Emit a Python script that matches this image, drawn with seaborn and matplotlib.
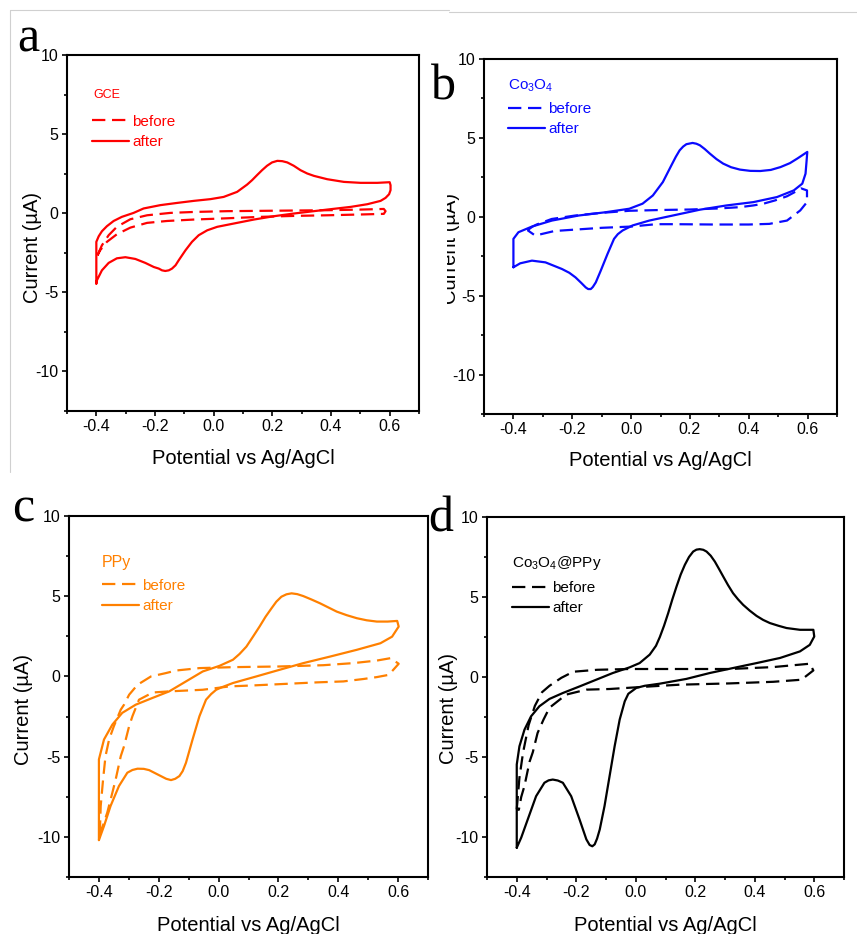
import matplotlib
matplotlib.use("Agg")
import matplotlib.pyplot as plt
from matplotlib.lines import Line2D
from matplotlib.patches import Rectangle
from matplotlib.ticker import MultipleLocator, FixedLocator
import seaborn as sns

# ---------------- data ----------------
x_ticks = [-0.4, -0.2, 0.0, 0.2, 0.4, 0.6]
x_tick_labels = ["-0.4", "-0.2", "0.0", "0.2", "0.4", "0.6"]
y_ticks = [-10, -5, 0, 5, 10]
y_tick_labels = ["-10", "-5", "0", "5", "10"]

# panel a: GCE
a_after_V = [-0.40, -0.40, -0.400, -0.392, -0.381, -0.364, -0.341, -0.313, -0.273, -0.239, -0.182, -0.125,
             -0.068, -0.011, 0.034, 0.080, 0.114, 0.131, 0.148, 0.165, 0.182, 0.199, 0.217, 0.234, 0.251,
             0.273, 0.296, 0.319, 0.342, 0.387, 0.444, 0.501, 0.558, 0.60, 0.603, 0.603, 0.598, 0.586,
             0.569, 0.524, 0.467, 0.387, 0.273, 0.205, 0.137, 0.069, 0.012, -0.022, -0.051, -0.074,
             -0.096, -0.119, -0.130, -0.142, -0.153, -0.165, -0.176, -0.187, -0.204, -0.233, -0.267,
             -0.301, -0.330, -0.358, -0.381, -0.398, -0.40]
a_after_I = [-4.45, -2.13, -1.81, -1.46, -1.14, -0.82, -0.49, -0.23, 0.02, 0.30, 0.51, 0.65,
             0.78, 0.89, 1.03, 1.35, 1.81, 2.09, 2.41, 2.72, 3.00, 3.21, 3.31, 3.29, 3.21,
             3.00, 2.72, 2.51, 2.36, 2.15, 1.98, 1.92, 1.92, 1.96, 1.77, 1.46, 1.20, 0.97,
             0.78, 0.57, 0.40, 0.23, -0.02, -0.19, -0.40, -0.65, -0.86, -1.08, -1.39, -1.81,
             -2.34, -2.97, -3.29, -3.50, -3.61, -3.65, -3.61, -3.50, -3.40, -3.14, -2.89,
             -2.78, -2.85, -3.14, -3.61, -4.24, -4.45]
a_before_V = [-0.396, -0.381, -0.358, -0.330, -0.284, -0.227, -0.148, -0.068, 0.046, 0.160, 0.273, 0.387,
              0.501, 0.580, 0.586, 0.580, 0.501, 0.387, 0.273, 0.160, 0.046, -0.068, -0.159, -0.227,
              -0.284, -0.330, -0.364, -0.387, -0.396]
a_before_I = [-2.66, -2.03, -1.39, -0.86, -0.38, -0.13, 0.02, 0.08, 0.13, 0.15, 0.17, 0.19,
              0.23, 0.27, 0.13, -0.04, -0.08, -0.13, -0.17, -0.23, -0.32, -0.40, -0.49, -0.61,
              -0.91, -1.33, -1.81, -2.34, -2.66]

# panel b: Co3O4
b_after_V = [-0.40, -0.40, -0.383, -0.337, -0.269, -0.178, -0.086, -0.006, 0.039, 0.074, 0.108, 0.137,
             0.152, 0.165, 0.177, 0.188, 0.209, 0.222, 0.234, 0.250, 0.268, 0.290, 0.313, 0.340, 0.370,
             0.405, 0.439, 0.475, 0.508, 0.540, 0.565, 0.599, 0.596, 0.593, 0.582, 0.553, 0.496, 0.416,
             0.325, 0.234, 0.142, 0.062, 0.005, -0.029, -0.045, -0.058, -0.080, -0.103, -0.120, -0.130,
             -0.137, -0.146, -0.154, -0.170, -0.189, -0.210, -0.235, -0.291, -0.337, -0.377, -0.40]
b_after_I = [-3.20, -1.40, -0.98, -0.62, -0.24, 0.08, 0.29, 0.51, 0.83, 1.35, 2.20, 3.26,
             3.80, 4.21, 4.45, 4.60, 4.68, 4.63, 4.53, 4.30, 4.00, 3.66, 3.37, 3.14, 2.99,
             2.91, 2.90, 2.97, 3.15, 3.40, 3.69, 4.11, 3.40, 2.73, 2.10, 1.67, 1.25, 0.93,
             0.72, 0.45, 0.08, -0.24, -0.55, -0.87, -1.10, -1.40, -2.35, -3.41, -4.16, -4.45,
             -4.58, -4.58, -4.48, -4.18, -3.84, -3.55, -3.31, -2.89, -2.78, -2.95, -3.20]
b_before_V = [-0.352, -0.335, -0.321, -0.270, -0.190, -0.100, -0.006, 0.100, 0.200, 0.300, 0.370, 0.416,
              0.450, 0.490, 0.530, 0.555, 0.578, 0.598, 0.598, 0.575, 0.530, 0.470, 0.400, 0.280,
              0.150, 0.085, 0.000, -0.100, -0.180, -0.260, -0.326, -0.352]
b_before_I = [-0.85, -0.62, -0.49, -0.14, 0.08, 0.25, 0.38, 0.43, 0.46, 0.53, 0.61, 0.72,
              0.83, 1.04, 1.30, 1.55, 1.80, 1.67, 0.93, 0.40, -0.24, -0.45, -0.49, -0.49,
              -0.47, -0.47, -0.62, -0.70, -0.80, -0.90, -1.19, -0.85]

# panel c: PPy
c_after_V = [-0.40, -0.40, -0.383, -0.355, -0.322, -0.277, -0.221, -0.165, -0.109, -0.053, 0.003, 0.048,
             0.070, 0.093, 0.115, 0.137, 0.157, 0.177, 0.193, 0.210, 0.227, 0.244, 0.263, 0.283, 0.310,
             0.339, 0.367, 0.395, 0.428, 0.462, 0.495, 0.529, 0.565, 0.597, 0.602, 0.580, 0.541, 0.462,
             0.373, 0.283, 0.205, 0.126, 0.048, 0.010, -0.008, -0.025, -0.042, -0.064, -0.087, -0.109,
             -0.120, -0.131, -0.145, -0.159, -0.175, -0.193, -0.232, -0.250, -0.271, -0.288, -0.305,
             -0.333, -0.361, -0.383, -0.40]
c_after_I = [-10.2, -5.17, -3.93, -3.00, -2.27, -1.76, -1.34, -0.93, -0.31, 0.31, 0.66, 1.04,
             1.40, 1.86, 2.48, 3.11, 3.72, 4.25, 4.66, 4.97, 5.12, 5.18, 5.13, 5.01, 4.80,
             4.56, 4.30, 4.04, 3.82, 3.63, 3.50, 3.42, 3.42, 3.46, 3.11, 2.48, 2.07, 1.66,
             1.24, 0.83, 0.42, 0.00, -0.41, -0.68, -0.83, -1.10, -1.45, -2.48, -3.93, -5.38,
             -5.90, -6.21, -6.38, -6.46, -6.38, -6.21, -5.84, -5.76, -5.75, -5.83, -6.00,
             -6.83, -8.07, -9.32, -10.2]
c_before_V = [-0.397, -0.394, -0.386, -0.378, -0.366, -0.350, -0.327, -0.316, -0.299, -0.271, -0.226, -0.176,
              -0.142, -0.064, 0.050, 0.200, 0.350, 0.450, 0.529, 0.575, 0.602, 0.569, 0.529, 0.484,
              0.417, 0.328, 0.283, 0.160, 0.115, 0.037, -0.053, -0.165, -0.220, -0.266, -0.288,
              -0.299, -0.316, -0.327, -0.344, -0.355, -0.372, -0.383, -0.394, -0.397]
c_before_I = [-9.80, -8.07, -6.40, -4.97, -3.93, -3.10, -2.07, -1.76, -1.14, -0.52, 0.00, 0.21,
              0.37, 0.52, 0.58, 0.62, 0.70, 0.83, 0.99, 1.14, 0.79, 0.10, -0.04, -0.16,
              -0.31, -0.37, -0.41, -0.52, -0.56, -0.62, -0.83, -0.93, -1.00, -1.45, -2.48,
              -3.10, -4.35, -4.97, -6.42, -7.24, -8.48, -9.10, -9.70, -9.80]

# panel d: Co3O4@PPy
d_after_V = [-0.40, -0.40, -0.391, -0.374, -0.352, -0.324, -0.290, -0.245, -0.189, -0.133, -0.077, -0.021,
             0.013, 0.047, 0.068, 0.081, 0.095, 0.109, 0.123, 0.137, 0.151, 0.165, 0.179, 0.193, 0.204,
             0.215, 0.227, 0.238, 0.252, 0.266, 0.280, 0.294, 0.310, 0.327, 0.344, 0.361, 0.383, 0.406,
             0.428, 0.451, 0.480, 0.507, 0.552, 0.597, 0.600, 0.585, 0.552, 0.485, 0.406, 0.327, 0.249,
             0.170, 0.080, 0.030, 0.002, -0.025, -0.037, -0.054, -0.071, -0.088, -0.105, -0.121, -0.130,
             -0.138, -0.146, -0.155, -0.166, -0.189, -0.217, -0.245, -0.262, -0.279, -0.293, -0.307,
             -0.335, -0.363, -0.385, -0.40]
d_after_I = [-10.67, -5.47, -4.33, -3.29, -2.46, -1.83, -1.37, -1.00, -0.59, -0.17, 0.25, 0.60,
             0.87, 1.40, 1.95, 2.50, 3.20, 3.99, 4.85, 5.65, 6.40, 7.01, 7.50, 7.84, 7.96,
             7.99, 7.95, 7.84, 7.58, 7.21, 6.75, 6.28, 5.75, 5.24, 4.85, 4.51, 4.15, 3.82,
             3.57, 3.37, 3.20, 3.06, 2.95, 2.95, 2.53, 2.01, 1.60, 1.19, 0.87, 0.56, 0.25,
             -0.12, -0.42, -0.55, -0.68, -1.05, -1.52, -2.66, -4.33, -6.20, -8.07, -9.53, -10.10,
             -10.46, -10.58, -10.50, -10.15, -8.90, -7.45, -6.61, -6.47, -6.41, -6.46, -6.61,
             -7.45, -8.90, -10.04, -10.67]
d_before_V = [-0.400, -0.391, -0.379, -0.360, -0.339, -0.315, -0.290, -0.250, -0.210, -0.130, -0.021, 0.148,
              0.316, 0.462, 0.585, 0.597, 0.557, 0.462, 0.316, 0.148, 0.057, -0.088, -0.166, -0.234,
              -0.290, -0.310, -0.330, -0.346, -0.357, -0.374, -0.385, -0.393, -0.400]
d_before_I = [-8.27, -6.30, -4.74, -3.00, -1.80, -0.95, -0.55, -0.05, 0.33, 0.45, 0.50, 0.50,
              0.50, 0.62, 0.83, 0.41, -0.17, -0.30, -0.40, -0.48, -0.58, -0.75, -0.79, -1.10,
              -1.92, -2.66, -3.50, -4.70, -5.30, -6.80, -7.50, -8.30, -8.27]

panel_letters = ["a", "b", "c", "d"]
panel_titles = ["GCE", r"Co$_3$O$_4$", "PPy", r"Co$_3$O$_4$@PPy"]
panel_colors = ["#ff0000", "#0a0aff", "#ff8000", "#000000"]
legend_labels = ["before", "after"]
x_label = "Potential vs Ag/AgCl"
y_label = "Current (\u00b5A)"

# ---------------- style ----------------
sns.set_theme(style="ticks")
plt.rcParams["font.family"] = ["Liberation Sans", "DejaVu Sans"]
plt.rcParams["axes.unicode_minus"] = False
plt.rcParams["mathtext.fontset"] = "custom"
plt.rcParams["mathtext.rm"] = "Liberation Sans"
plt.rcParams["mathtext.it"] = "Liberation Sans:italic"
plt.rcParams["mathtext.bf"] = "Liberation Sans:bold"

W, H = 857, 934
fig = plt.figure(figsize=(W / 100, H / 100), dpi=100)
fig.patch.set_facecolor("white")


def rect(l, t, r, b):
    return [l / W, 1 - b / H, (r - l) / W, (b - t) / H]


layout = [
    dict(rect=rect(67, 55, 419, 411), ylab=(-0.071, 0.46), xlab=-0.107,
         title=(0.074, 0.879, 9), leg=(0.071, 0.832), letter=(17, 52)),
    dict(rect=rect(484, 59, 837, 414), ylab=(-0.068, 0.466), xlab=-0.105,
         title=(0.068, 0.915, 11), leg=(0.068, 0.879), letter=(431, 100)),
    dict(rect=rect(69, 516, 428, 877), ylab=(-0.100, 0.463), xlab=-0.109,
         title=(0.092, 0.859, 11.5), leg=(0.092, 0.826), letter=(12, 522)),
    dict(rect=rect(487, 517, 844, 877), ylab=(-0.081, 0.467), xlab=-0.109,
         title=(0.070, 0.861, 11), leg=(0.070, 0.822), letter=(428, 532)),
]

data = [
    (a_before_V, a_before_I, a_after_V, a_after_I),
    (b_before_V, b_before_I, b_after_V, b_after_I),
    (c_before_V, c_before_I, c_after_V, c_after_I),
    (d_before_V, d_before_I, d_after_V, d_after_I),
]

for k in range(4):
    L = layout[k]
    col = panel_colors[k]
    bV, bI, aV, aI = data[k]
    ax = fig.add_axes(L["rect"])
    sns.lineplot(x=bV, y=bI, sort=False, estimator=None, ax=ax, color=col,
                 linewidth=1.6, linestyle=(0, (6, 3)), dash_joinstyle="round",
                 dash_capstyle="butt")
    sns.lineplot(x=aV, y=aI, sort=False, estimator=None, ax=ax, color=col,
                 linewidth=1.6, linestyle="-", solid_joinstyle="round")
    ax.set_xlim(-0.5, 0.7)
    ax.set_ylim(-12.5, 10)
    ax.xaxis.set_major_locator(FixedLocator(x_ticks))
    ax.set_xticklabels(x_tick_labels)
    ax.xaxis.set_minor_locator(MultipleLocator(0.1))
    ax.yaxis.set_major_locator(FixedLocator(y_ticks))
    ax.set_yticklabels(y_tick_labels)
    ax.yaxis.set_minor_locator(MultipleLocator(2.5))
    ax.tick_params(which="both", direction="out", width=1.2, color="black",
                   labelcolor="black", top=False, right=False)
    ax.tick_params(which="major", length=3.5, labelsize=11.5, pad=2.5)
    ax.tick_params(which="minor", length=2.5)
    for s in ax.spines.values():
        s.set_linewidth(1.5)
        s.set_color("black")
    ax.grid(False)
    ax.set_facecolor("white")

    ax.set_xlabel(x_label, fontsize=14.5, color="black", va="top")
    ax.xaxis.set_label_coords(0.5, L["xlab"])
    ax.set_ylabel(y_label, fontsize=14.5, color="black")
    ax.yaxis.set_label_coords(*L["ylab"])

    tx, ty, tfs = L["title"]
    ax.text(tx, ty, panel_titles[k], transform=ax.transAxes, color=col,
            fontsize=tfs, ha="left", va="baseline")
    lines = ax.get_lines()
    ax.legend(handles=[lines[0], lines[1]], labels=legend_labels,
              loc="upper left", bbox_to_anchor=L["leg"], frameon=False,
              borderpad=0, borderaxespad=0, handlelength=2.4,
              handletextpad=0.25, labelspacing=0.4, fontsize=11,
              labelcolor=col)

    lx, ly = L["letter"]
    fig.text(lx / W, 1 - ly / H, panel_letters[k], fontsize=36,
             family="Liberation Serif", ha="left", va="baseline",
             color="black", zorder=10)

# partially hidden y-label of panel b (as in the reference)
fig.add_artist(Rectangle((434 / W, 1 - 312 / H), 13 / W, 130 / H,
                         transform=fig.transFigure, facecolor="white",
                         edgecolor="none", zorder=5))

# thin grey frame lines from the source layout
grey = "#d0d0d0"
fig.add_artist(Line2D([10 / W, 10 / W], [1 - 472 / H, 1 - 10 / H],
                      transform=fig.transFigure, color=grey, lw=0.8))
fig.add_artist(Line2D([10 / W, 449 / W], [1 - 10 / H, 1 - 10 / H],
                      transform=fig.transFigure, color=grey, lw=0.8))
fig.add_artist(Line2D([449 / W, 857 / W], [1 - 12 / H, 1 - 12 / H],
                      transform=fig.transFigure, color=grey, lw=0.8))

fig.savefig("out.png", dpi=100, facecolor="white")
